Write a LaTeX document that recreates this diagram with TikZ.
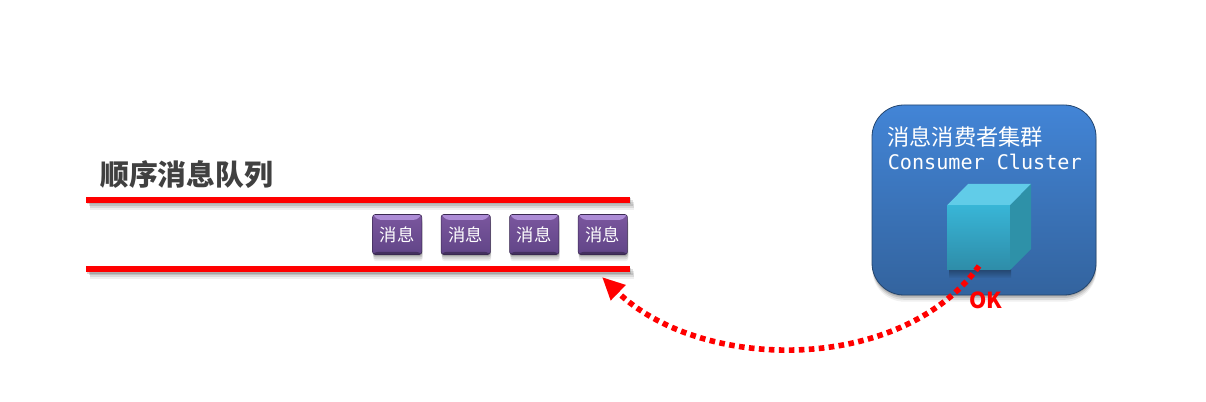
\documentclass[tikz,border=0pt]{standalone}
\usepackage{fontspec}
\newfontfamily\cjk{Noto Sans CJK SC}
\newfontfamily\clustermono{DejaVu Sans Mono}
\usetikzlibrary{arrows.meta,shadows,matrix,positioning}
\definecolor{QueueTitle}{rgb}{0.25, 0.25, 0.25}
\definecolor{MsgTop}{rgb}{0.48, 0.34, 0.62}
\definecolor{MsgBottom}{rgb}{0.38, 0.27, 0.53}
\definecolor{MsgBevel}{rgb}{0.68, 0.55, 0.84}
\definecolor{ClusterTop}{rgb}{0.26, 0.52, 0.84}
\definecolor{ClusterBottom}{rgb}{0.20, 0.39, 0.62}
\definecolor{CubeTop}{rgb}{0.38, 0.80, 0.91}
\definecolor{CubeSide}{rgb}{0.18, 0.57, 0.66}
\definecolor{CubeFrontTop}{rgb}{0.22, 0.71, 0.84}
\definecolor{CubeFrontBottom}{rgb}{0.18, 0.55, 0.66}
\tikzset{
	softdrop/.style={
		drop shadow={shadow xshift=#1*1pt, shadow yshift=-1pt, fill=black, opacity=0.14},
		drop shadow={shadow xshift=#1*2pt, shadow yshift=-2.2pt, fill=black, opacity=0.12},
		drop shadow={shadow xshift=#1*3pt, shadow yshift=-3.6pt, fill=black, opacity=0.09},
		drop shadow={shadow xshift=#1*3pt, shadow yshift=-5pt, fill=black, opacity=0.06}},
	queueline/.style={fill=red, softdrop=1},
	msgbox/.style={minimum width=37pt, minimum height=30pt, inner sep=0pt, rounded corners=2pt,
		top color=MsgTop, bottom color=MsgBottom, draw=MsgBottom!60!black, line width=0.4pt,
		text=white, font=\cjk\fontsize{13}{15}\selectfont,
		softdrop=0.2,
		path picture={
			\fill[MsgBevel] (path picture bounding box.north west) -- (path picture bounding box.north east)
				-- ([xshift=-4pt,yshift=-4pt]path picture bounding box.north east)
				-- ([xshift=4pt,yshift=-4pt]path picture bounding box.north west) -- cycle;
			\fill[MsgBottom!70!black] (path picture bounding box.south west) -- (path picture bounding box.south east)
				-- ([xshift=-2.5pt,yshift=2pt]path picture bounding box.south east)
				-- ([xshift=2.5pt,yshift=2pt]path picture bounding box.south west) -- cycle;
		}},
	clusterbox/.style={rounded corners=24pt, top color=ClusterTop, bottom color=ClusterBottom,
		draw=ClusterBottom!70!black, line width=0.6pt, softdrop=0.1},
	oktrack/.style={draw=red, line width=4.2pt, dash pattern=on 4.2pt off 3.3pt,
		-{Triangle[length=17pt, width=15pt, fill=red]}},
}

\begin{document}
\begin{tikzpicture}[x=0.75pt, y=-0.75pt]
	\useasboundingbox (0,0) rectangle (1206,402);

	% queue
	\node[anchor=west, inner sep=0pt, text=QueueTitle, font=\cjk\bfseries\fontsize{21.6}{24}\selectfont] (queuetitle) at (100,175) {顺序消息队列};
	\fill[queueline] (86,197) rectangle (630,203);
	\fill[queueline] (86,266.5) rectangle (630,272.5);
	\coordinate (queueend) at (602,277);

	\matrix[%
		matrix of nodes,
		column sep=14pt,
		nodes={msgbox},
		anchor=east, inner sep=0pt,
	] (msgs) at (628,234.5)
	{
		消息 & 消息 & 消息 & 消息\\
	};

	% consumer cluster
	\draw[clusterbox] (872,105) rectangle (1096,295);
	\node[anchor=west, inner sep=0pt, text=white, font=\cjk\fontsize{16.7}{19}\selectfont] (clustername) at (887,137) {消息消费者集群};
	\node[anchor=west, inner sep=0pt, text=white, font=\clustermono\fontsize{15.1}{18}\selectfont] (clusteren) at (887.5,162) {Consumer Cluster};

	% cube
	\shade[top color=ClusterBottom!72!black, bottom color=ClusterBottom!95!ClusterTop] (949,270) rectangle (1011,278);
	\fill[CubeTop] (947,205.5) -- (968,184) -- (1031,184) -- (1010,205.5) -- cycle;
	\fill[CubeSide] (1010,205.5) -- (1031,184) -- (1031,249) -- (1010,270) -- cycle;
	\node[minimum width=47pt, minimum height=48pt, inner sep=0pt, top color=CubeFrontTop, bottom color=CubeFrontBottom] (cubefront) at (978.5,238) {};
	\coordinate (cubeok) at (979,266);

	\draw[oktrack] (cubeok) .. controls (900,375) and (700,372) .. (queueend);
	\node[inner sep=0pt, text=red, font=\cjk\bfseries\fontsize{16.5}{18}\selectfont] (oklabel) at (986,300) {OK};
\end{tikzpicture}
\end{document}
